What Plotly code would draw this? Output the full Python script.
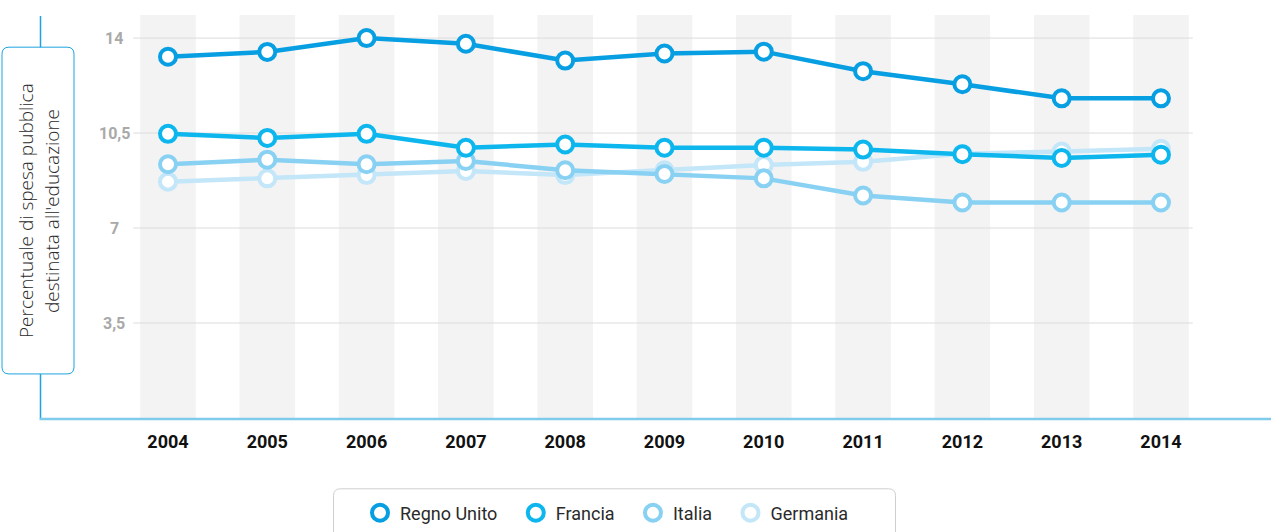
import plotly.graph_objects as go

years = ["2004", "2005", "2006", "2007", "2008", "2009", "2010", "2011", "2012", "2013", "2014"]
regno_unito = [13.31, 13.49, 14.0, 13.79, 13.17, 13.43, 13.50, 12.78, 12.30, 11.78, 11.78]
francia = [10.47, 10.32, 10.47, 9.96, 10.08, 9.96, 9.96, 9.89, 9.72, 9.58, 9.70]
italia = [9.35, 9.52, 9.35, 9.47, 9.13, 8.99, 8.83, 8.20, 7.94, 7.94, 7.94]
germania = [8.71, 8.83, 8.95, 9.10, 8.95, 9.13, 9.32, 9.44, 9.74, 9.82, 9.92]

y_tickvals = [3.5, 7, 10.5, 14]
y_ticktext = ["3,5", "7", "10,5", "14"]

NB = "\u00a0"
series = [
    ("Germania", germania, "#c3e6f9", ""),
    ("Italia", italia, "#88d1f3", NB * 3),
    ("Francia", francia, "#0db7ee", NB * 3),
    ("Regno Unito", regno_unito, "#079fe2", NB * 3),
]

W, H = 1271, 532
ML, MR, MT, MB = 40, 0, 15, 110
PW, PH = W - ML - MR, H - MT - MB

def px(x):
    return (x - ML) / PW

def py(y):
    return (H - MB - y) / PH

fig = go.Figure()

n = len(years)
for name, vals, col, pad in series:
    fig.add_trace(go.Scatter(
        x=list(range(n)), y=vals, mode="lines", name=name,
        line=dict(color=col, width=4.5), showlegend=False, hoverinfo="skip"))
    fig.add_trace(go.Scatter(
        x=list(range(n)), y=vals, mode="markers", name=name + pad,
        marker=dict(size=16, color="white", line=dict(color=col, width=4)),
        showlegend=True))

shapes = []
for i in range(n):
    shapes.append(dict(type="rect", xref="x", yref="paper", x0=i - 0.28, x1=i + 0.28,
                       y0=0, y1=1, fillcolor="#f3f3f3", line=dict(width=0), layer="below"))
for v in y_tickvals:
    shapes.append(dict(type="line", xref="x", yref="y", x0=-0.35, x1=10.32, y0=v, y1=v,
                       line=dict(color="#dcdcdc", width=1), layer="below"))
shapes.append(dict(type="line", xref="paper", yref="paper", x0=px(40.5), x1=px(40.5),
                   y0=0, y1=py(16), line=dict(color="#1ea3e0", width=1.5), layer="above"))
shapes.append(dict(type="line", xref="paper", yref="paper", x0=px(39.5), x1=1,
                   y0=py(423), y1=py(423), line=dict(color="#7fcbec", width=2.5), layer="above"))

def rounded(x0, y0, x1, y1, r):
    rx = r / PW
    ry = r / PH
    X0, X1 = px(x0), px(x1)
    Y0, Y1 = py(y0), py(y1)
    return (f"M {X0+rx},{Y0} L {X1-rx},{Y0} Q {X1},{Y0} {X1},{Y0-ry} "
            f"L {X1},{Y1+ry} Q {X1},{Y1} {X1-rx},{Y1} L {X0+rx},{Y1} "
            f"Q {X0},{Y1} {X0},{Y1+ry} L {X0},{Y0-ry} Q {X0},{Y0} {X0+rx},{Y0} Z")

shapes.append(dict(type="path", xref="paper", yref="paper", path=rounded(2, 47.5, 74, 377.5, 7),
                   fillcolor="white", line=dict(color="#1ea3e0", width=1), layer="above"))
shapes.append(dict(type="path", xref="paper", yref="paper", path=rounded(333.5, 493.5, 895.5, 545, 7),
                   fillcolor="rgba(0,0,0,0)", line=dict(color="#cfcfcf", width=1), layer="above"))

title_font = dict(family="Open Sans", size=19, color="#2a2a2a", weight=300)
annotations = [
    dict(text="Percentuale di spesa pubblica", xref="paper", yref="paper", x=px(26), y=py(213),
         textangle=-90, showarrow=False, xanchor="center", yanchor="middle", font=title_font),
    dict(text="destinata all'educazione", xref="paper", yref="paper", x=px(52), y=py(213),
         textangle=-90, showarrow=False, xanchor="center", yanchor="middle", font=title_font),
]
for v, t in zip(y_tickvals, y_ticktext):
    annotations.append(dict(text=t, xref="paper", yref="y", x=px(114), y=v, showarrow=False,
                            xanchor="center", yanchor="middle",
                            font=dict(family="Roboto", size=16, color="#a9a9a9", weight=700)))

fig.update_layout(
    width=W, height=H,
    margin=dict(l=ML, r=MR, t=MT, b=MB),
    paper_bgcolor="white", plot_bgcolor="white",
    shapes=shapes, annotations=annotations,
    xaxis=dict(range=[-1.289, 11.108], tickmode="array", tickvals=list(range(n)), ticktext=years,
               showgrid=False, zeroline=False, showline=False, ticks="",
               ticklabelstandoff=11,
               tickfont=dict(family="Roboto", size=18, color="#111111", weight=700),
               fixedrange=True),
    yaxis=dict(range=[0, 14.85], showgrid=False, zeroline=False, showline=False,
               showticklabels=False, ticks="", fixedrange=True),
    showlegend=True,
    legend=dict(orientation="h", x=px(360), xanchor="left", y=py(518), yanchor="middle",
                traceorder="reversed", font=dict(family="Roboto", size=18, color="#2a2a2a"),
                bgcolor="rgba(0,0,0,0)", itemclick=False, itemdoubleclick=False),
    hovermode=False,
)

fig.write_html("out.html", config={"displayModeBar": False},
               post_script="document.body.style.margin='0';document.body.style.overflow='hidden';")
